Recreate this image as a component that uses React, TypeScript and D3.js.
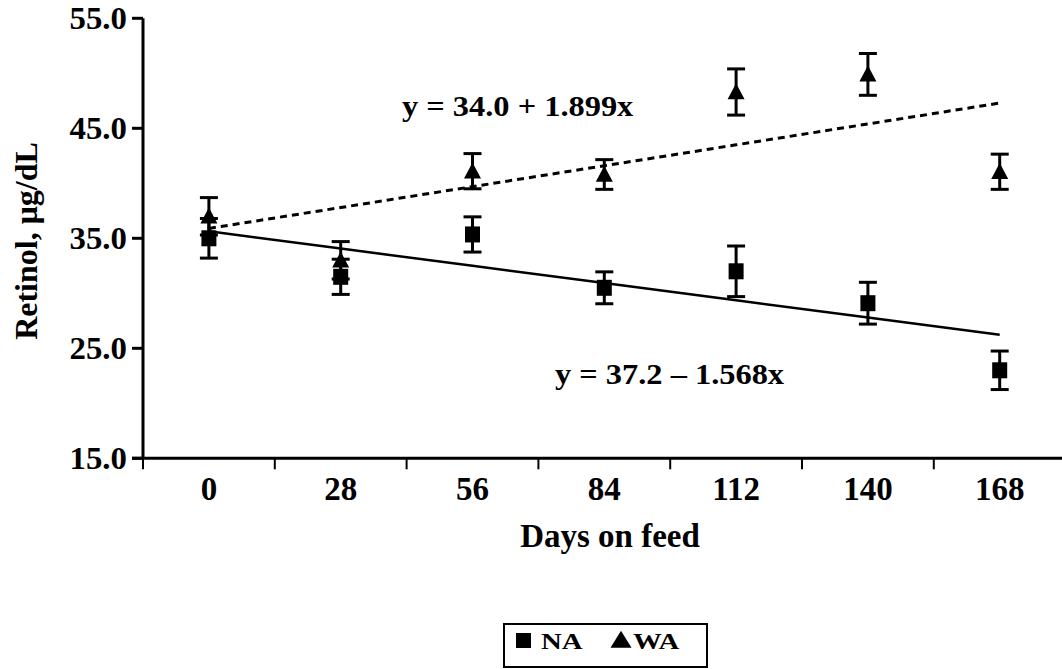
import React from 'react';
import * as d3 from 'd3';

// days on feed (categories)
const days = ['0', '28', '56', '84', '112', '140', '168'];
const naMean = [35.0, 31.5, 35.35, 30.5, 32.0, 29.1, 23.0];
const naSE = [1.8, 1.6, 1.6, 1.45, 2.3, 1.9, 1.75];
const waMean = [37.0, 33.0, 41.1, 40.8, 48.3, 49.9, 41.05];
const waSE = [1.7, 1.7, 1.6, 1.35, 2.1, 1.9, 1.6];
const yTicks = [15, 25, 35, 45, 55];
// regression: y = a + b * period (period = 1..7)
const naFit = { a: 37.2, b: -1.568, label: 'y = 37.2 \u2013 1.568x' };
const waFit = { a: 34.0, b: 1.899, label: 'y = 34.0 + 1.899x' };

const W = 1062;
const H = 669;
const font = '"Liberation Serif", "Times New Roman", serif';

const App = () => {
  const left = 143;
  const x = d3.scaleBand().domain(days).range([left, left + 7 * 131.8]).padding(0);
  const y = d3.scaleLinear().domain([15, 55]).range([458.3, 18.3]);
  const cx = (d: string) => (x(d) as number) + x.bandwidth() / 2;
  const bottom = y(15);

  const fitLine = (fit: { a: number; b: number }) =>
    d3
      .line<string>()
      .x((d) => cx(d))
      .y((d, i) => y(fit.a + fit.b * (i + 1)))(days) as string;

  const errBars = (mean: number[], se: number[]) =>
    days.map((d, i) => {
      const px = cx(d);
      const top = y(mean[i] + se[i]);
      const bot = y(mean[i] - se[i]);
      return (
        <g key={d} stroke="#000" strokeWidth={3}>
          <line x1={px} x2={px} y1={top} y2={bot} />
          <line x1={px - 9} x2={px + 9} y1={top} y2={top} />
          <line x1={px - 9} x2={px + 9} y1={bot} y2={bot} />
        </g>
      );
    });

  const tri = (px: number, py: number, w = 17, h = 16) =>
    `M${px},${py - h * 0.55}L${px + w / 2},${py + h * 0.45}L${px - w / 2},${py + h * 0.45}Z`;

  const boundaries = d3.range(0, 8).map((i) => left + i * x.step());

  return (
    <svg
      width={W}
      height={H}
      style={{ position: 'absolute', left: 0, top: 0, background: '#fff' }}
      fontFamily={font}
      fontWeight="bold"
    >
      <rect width={W} height={H} fill="#fff" />

      {/* y axis */}
      <line x1={left} x2={left} y1={y(55)} y2={bottom} stroke="#000" strokeWidth={3} />
      {yTicks.map((t) => (
        <g key={t}>
          <line x1={left - 11} x2={left} y1={y(t)} y2={y(t)} stroke="#000" strokeWidth={3} />
          <text
            transform={`translate(127,${y(t) + 10.5}) scale(1.06,1)`}
            textAnchor="end"
            fontSize={31}
          >
            {t.toFixed(1)}
          </text>
        </g>
      ))}

      {/* x axis */}
      <line x1={left - 11} x2={W + 10} y1={bottom} y2={bottom} stroke="#000" strokeWidth={3} />
      {boundaries.map((b, i) => (
        <line key={i} x1={b} x2={b} y1={bottom} y2={bottom + 11} stroke="#000" strokeWidth={2} />
      ))}
      {days.map((d) => (
        <text key={d} x={cx(d)} y={500} textAnchor="middle" fontSize={33}>
          {d}
        </text>
      ))}

      <text x={610} y={547} textAnchor="middle" fontSize={33}>
        Days on feed
      </text>
      <text transform={`translate(37,241) rotate(-90)`} textAnchor="middle" fontSize={32}>
        Retinol, μg/dL
      </text>

      {/* regression lines */}
      <path d={fitLine(waFit)} fill="none" stroke="#000" strokeWidth={3} strokeDasharray="7,5" />
      <path d={fitLine(naFit)} fill="none" stroke="#000" strokeWidth={2.5} />

      {/* WA series */}
      {errBars(waMean, waSE)}
      {days.map((d, i) => (
        <path key={d} d={tri(cx(d), y(waMean[i]))} fill="#000" />
      ))}

      {/* NA series */}
      {errBars(naMean, naSE)}
      {days.map((d, i) => (
        <rect key={d} x={cx(d) - 7.5} y={y(naMean[i]) - 8} width={15} height={16} fill="#000" />
      ))}

      {/* equations */}
      <text transform={`translate(402,116) scale(1.08,1)`} fontSize={30}>
        {waFit.label}
      </text>
      <text transform={`translate(555,384) scale(1.08,1)`} fontSize={30}>
        {naFit.label}
      </text>

      {/* legend */}
      <rect x={504} y={624} width={203} height={43} fill="#fff" stroke="#000" strokeWidth={2} />
      <rect x={516} y={633} width={15} height={15} fill="#000" />
      <text transform={`translate(541,649) scale(1.2,1)`} fontSize={24}>
        NA
      </text>
      <path d={tri(621, 640, 21, 17)} fill="#000" />
      <text transform={`translate(633,649) scale(1.2,1)`} fontSize={24}>
        WA
      </text>
    </svg>
  );
};

export default App;
